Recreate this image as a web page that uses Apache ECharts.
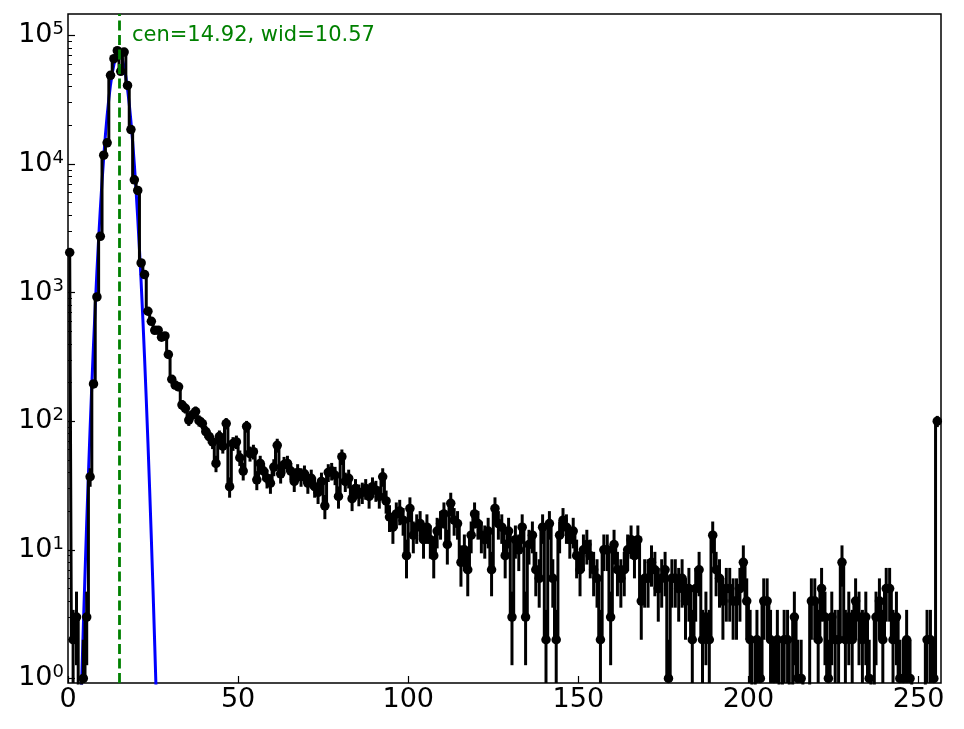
<!DOCTYPE html>
<html><head><meta charset="utf-8">
<script src="https://cdn.jsdelivr.net/npm/echarts@6/dist/echarts.min.js"></script>
<style>html,body{margin:0;padding:0;background:#fff}#c{width:964px;height:729px}</style>
</head><body><div id="c"></div>
<script>
// Histogram counts per bin (bins of width 1 starting at 0)
const counts = [
 2050, 2, 3, 0, 1, 3, 37, 195, 925, 2740,
 11700, 14600, 48900, 65900, 76000, 52500, 74100, 40800, 18500, 7530,
 6220, 1700, 1380, 716, 598, 509, 510, 450, 460, 330,
 212, 191, 185, 134, 126, 102, 112, 119, 101, 96,
 83, 76, 69, 47, 76, 64, 96, 31, 67, 69,
 52, 41, 91, 56, 58, 35, 47, 41, 36, 33,
 44, 65, 39, 46, 47, 41, 34, 40, 37, 39,
 33, 36, 31, 28, 34, 22, 40, 41, 38, 26,
 53, 34, 36, 25, 30, 27, 28, 30, 26, 31,
 29, 26, 37, 24, 18, 15, 19, 20, 17, 9,
 21, 13, 15, 16, 12, 15, 12, 9, 14, 16,
 19, 11, 23, 17, 16, 8, 10, 7, 13, 19,
 16, 13, 12, 14, 7, 21, 16, 15, 9, 14,
 3, 12, 10, 15, 3, 11, 13, 7, 6, 15,
 2, 16, 6, 2, 13, 17, 15, 12, 14, 9,
 7, 10, 11, 9, 7, 6, 2, 10, 10, 3,
 11, 7, 6, 7, 10, 12, 9, 12, 4, 6,
 6, 8, 7, 5, 6, 7, 1, 6, 6, 5,
 6, 4, 5, 2, 5, 7, 2, 3, 2, 13,
 7, 6, 4, 5, 5, 4, 4, 5, 8, 4,
 2, 0, 2, 1, 4, 4, 2, 1, 2, 0,
 2, 2, 0, 3, 1, 1, 0, 0, 4, 4,
 2, 5, 3, 1, 3, 2, 2, 8, 2, 3,
 2, 4, 3, 2, 3, 1, 0, 3, 4, 2,
 5, 5, 2, 3, 1, 1, 2, 1, 0, 0,
 0, 0, 2, 2, 1, 100
];
const binStart = 0;
const binWidth = 1;

const gaussX = [3.5,4,4.5,5,5.5,6,6.5,7,7.5,8,8.5,9,9.5,10,10.5,11,11.5,12,12.5,13,13.5,14,14.5,15,15.5,16,16.5,17,17.5,18,18.5,19,19.5,20,20.5,21,21.5,22,22.5,23,23.5,24,24.5,25,25.5,26,26.5];
const gaussY = [0.31,0.91,2.5,6.5,16.3,38.6,88,191,394,776,1456,2612,4467,7280,11320,16810,23770,32110,41340,50760,59430,66410,70800,71950,69700,64440,56800,47760,38280,29310,21380,14890,9890,6260,3780,2180,1197,627,313,149,68,29.4,12.2,4.8,1.8,0.65,0.22];

const fitCen = 14.92;
const fitWid = 10.57;
const fitLabel = 'cen=' + fitCen.toFixed(2) + ', wid=' + fitWid.toFixed(2);

const xTicks = [0, 50, 100, 150, 200, 250];
const yMajorTicks = [1, 10, 100, 1000, 10000, 100000];

const X_MIN = 0, X_MAX = 256.6;
const Y_MIN = 0.922, Y_MAX = 1.465e5;
const CLIP_FLOOR = 1e-3; // non-positive values clipped below the axis (like log 'clip')

const yMinorTicks = [];
for (let n = 0; n <= 5; n++) for (let m = 2; m <= 9; m++) yMinorTicks.push(m * Math.pow(10, n));

const FONT = 'DejaVu Sans';

const stepData = counts.map((v, i) => [binStart + (i + 0.5) * binWidth, v > 0 ? v : CLIP_FLOOR]);
const errData = counts.map((v, i) => {
  const e = Math.sqrt(v);
  return [binStart + (i + 0.5) * binWidth, Math.max(v - e, Y_MIN), Math.min(v + e, Y_MAX)];
}).filter(d => d[2] > Y_MIN);

const chart = echarts.init(document.getElementById('c'), null, {renderer: 'canvas'});
chart.setOption({
  animation: false,
  backgroundColor: '#fff',
  grid: {left: 68, right: 23, top: 14, bottom: 46, show: true, borderColor: '#000', borderWidth: 1.5,
         backgroundColor: 'transparent', containLabel: false, outerBoundsMode: 'none'},
  xAxis: {
    type: 'value', min: X_MIN, max: X_MAX,
    axisLine: {show: false},
    axisTick: {show: true, inside: true, length: 7, customValues: xTicks, lineStyle: {color: '#000', width: 1.2}},
    axisLabel: {customValues: xTicks, fontFamily: FONT, fontSize: 27, color: '#000', margin: 3},
    splitLine: {show: false}
  },
  yAxis: [{
    type: 'log', logBase: 10, min: Y_MIN, max: Y_MAX,
    axisLine: {show: false},
    axisTick: {show: true, inside: true, length: 7, customValues: yMajorTicks, lineStyle: {color: '#000', width: 1.2}},
    axisLabel: {
      customValues: yMajorTicks, margin: 4,
      formatter: v => '{b|10}{s|' + Math.round(Math.log10(v)) + '}',
      rich: {
        b: {fontFamily: FONT, fontSize: 27, color: '#000', lineHeight: 30},
        s: {fontFamily: FONT, fontSize: 18, color: '#000', lineHeight: 18, verticalAlign: 'top'}
      }
    },
    splitLine: {show: false}
  }, {
    type: 'log', logBase: 10, min: Y_MIN, max: Y_MAX, position: 'left',
    axisLine: {show: false},
    axisTick: {show: true, inside: true, length: 4, customValues: yMinorTicks, lineStyle: {color: '#000', width: 1}},
    axisLabel: {show: false},
    splitLine: {show: false}
  }],
  graphic: [{
    type: 'text', left: 132, top: 25, z: 10,
    style: {text: fitLabel, fill: '#008000', font: '21px "DejaVu Sans"'}
  }],
  series: [
    {
      name: 'fit', type: 'line', data: gaussX.map((x, i) => [x, gaussY[i]]),
      showSymbol: false, clip: true, z: 2,
      lineStyle: {color: '#0000ff', width: 3}, itemStyle: {color: '#0000ff'},
      markLine: {
        silent: true, symbol: ['none', 'none'], label: {show: false},
        lineStyle: {color: '#008000', width: 2.8, type: [10, 4.5]},
        data: [{xAxis: fitCen}]
      }
    },
    {
      name: 'err', type: 'custom', data: errData, z: 3,
      encode: {x: 0, y: [1, 2]},
      renderItem: (params, api) => {
        const p1 = api.coord([api.value(0), api.value(1)]);
        const p2 = api.coord([api.value(0), api.value(2)]);
        return {type: 'line', shape: {x1: p1[0], y1: p1[1], x2: p2[0], y2: p2[1]},
                style: {stroke: '#000', lineWidth: 3}};
      }
    },
    {
      name: 'counts', type: 'line', data: stepData, step: 'middle', clip: true, z: 4,
      showSymbol: true, showAllSymbol: true, symbol: 'circle', symbolSize: 9.5,
      lineStyle: {color: '#000', width: 3}, itemStyle: {color: '#000'}
    }
  ]
});
</script></body></html>
